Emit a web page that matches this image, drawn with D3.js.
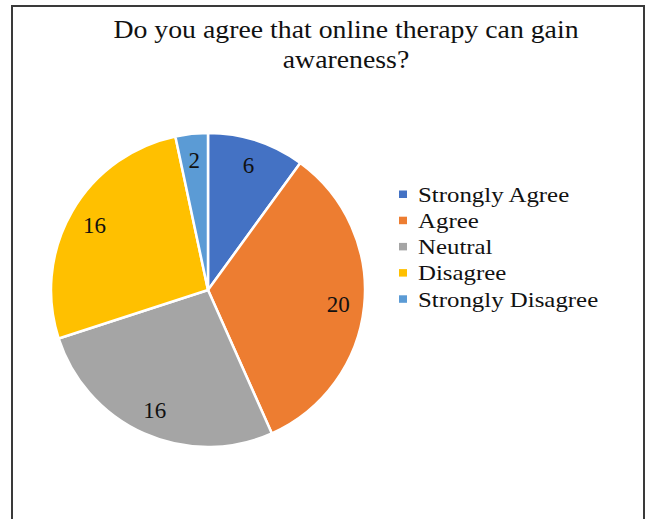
<!DOCTYPE html>
<html>
<head>
<meta charset="utf-8">
<script src="https://cdn.jsdelivr.net/npm/d3@7"></script>
<style>
  html, body { margin: 0; padding: 0; background: #fff; }
  svg { display: block; }
  text { font-family: "Liberation Serif", "Times New Roman", serif; fill: #111; }
</style>
</head>
<body>
<svg id="chart" width="646" height="519"></svg>
<script>
// Survey responses
const categories = ["Strongly Agree", "Agree", "Neutral", "Disagree", "Strongly Disagree"];
const counts = [6, 20, 16, 16, 2];
const colors = ["#4472C4", "#ED7D31", "#A5A5A5", "#FFC000", "#5B9BD5"];
const titleLines = ["Do you agree that online therapy can gain", "awareness?"];

const svg = d3.select("#chart");

// Frame around the chart area
svg.append("rect")
  .attr("x", 12).attr("y", 6)
  .attr("width", 632).attr("height", 530)
  .attr("fill", "none")
  .attr("stroke", "#3a3a3a")
  .attr("stroke-width", 2);

// Title (slightly widened serif lettering)
svg.append("g").selectAll("text")
  .data(titleLines)
  .join("text")
  .attr("transform", (d, i) => `translate(346,${38 + i * 30}) scale(1.09,1)`)
  .attr("text-anchor", "middle")
  .style("font-size", "25.5px")
  .text(d => d);

// Pie
const cx = 208, cy = 290, radius = 157;
const data = categories.map((c, i) => ({ name: c, value: counts[i], color: colors[i] }));
const pie = d3.pie().value(d => d.value).sort(null);
const arc = d3.arc().innerRadius(0).outerRadius(radius);
const labelArc = d3.arc().innerRadius(131).outerRadius(131);

const g = svg.append("g").attr("transform", `translate(${cx},${cy})`);
const arcs = pie(data);

g.selectAll("path")
  .data(arcs)
  .join("path")
  .attr("d", arc)
  .attr("fill", d => d.data.color)
  .attr("stroke", "#fff")
  .attr("stroke-width", 2.5)
  .attr("stroke-linejoin", "round");

g.selectAll("text")
  .data(arcs)
  .join("text")
  .attr("transform", d => `translate(${labelArc.centroid(d)})`)
  .attr("text-anchor", "middle")
  .attr("dy", "0.35em")
  .style("font-size", "23px")
  .text(d => d.data.value);

// Legend
const legend = svg.append("g").attr("transform", "translate(399,194)");
const rows = legend.selectAll("g")
  .data(data)
  .join("g")
  .attr("transform", (d, i) => `translate(0,${i * 26.2})`);
rows.append("rect")
  .attr("x", 0).attr("y", -3.5)
  .attr("width", 8).attr("height", 7.5)
  .attr("fill", d => d.color);
rows.append("text")
  .attr("transform", "translate(19,0) scale(1.13,1)")
  .attr("dy", "0.35em")
  .style("font-size", "22px")
  .text(d => d.name);
</script>
</body>
</html>
